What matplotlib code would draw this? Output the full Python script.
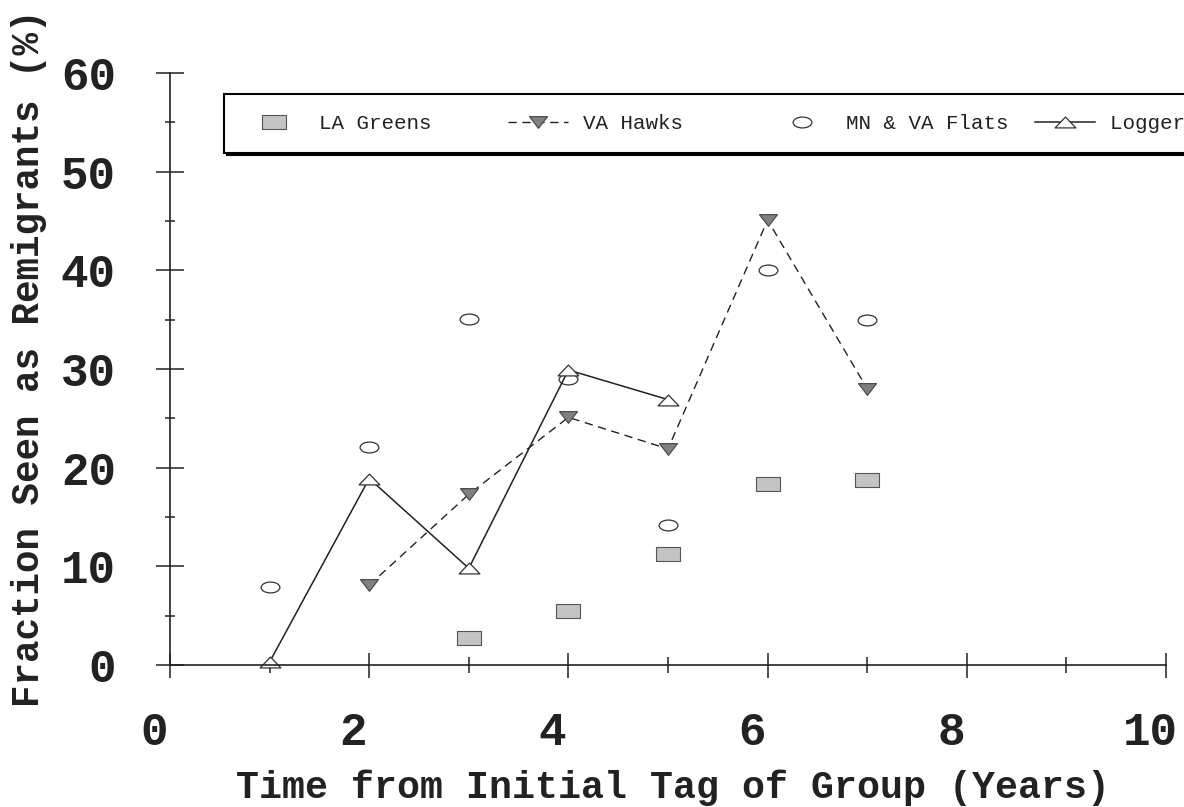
import matplotlib
matplotlib.use('Agg')
import matplotlib.pyplot as plt
from matplotlib.path import Path
from matplotlib.transforms import Affine2D, ScaledTranslation

# ---------------------------------------------------------
# data
# ---------------------------------------------------------
la_greens_x = [3, 4, 5, 6, 7]
la_greens_y = [2.7, 5.5, 11.2, 18.3, 18.7]

va_hawks_x = [2, 3, 4, 5, 6, 7]
va_hawks_y = [8.1, 17.3, 25.1, 21.9, 45.1, 28.0]

flats_x = [1, 2, 3, 4, 5, 6, 7]
flats_y = [7.9, 22.1, 35.1, 29.0, 14.2, 40.0, 35.0]

logger_x = [1, 2, 3, 4, 5]
logger_y = [0.3, 18.9, 9.8, 29.9, 26.9]

x_ticks = [0, 2, 4, 6, 8, 10]
y_ticks = [0, 10, 20, 30, 40, 50, 60]

series_labels = ['LA Greens', 'VA Hawks', 'MN & VA Flats', 'Loggerhead']

# ---------------------------------------------------------
# squashed markers (the original plot was stretched sideways)
# ---------------------------------------------------------
rect_marker = Path([(-1, -0.58), (1, -0.58), (1, 0.58), (-1, 0.58), (-1, -0.58)],
                   [Path.MOVETO, Path.LINETO, Path.LINETO, Path.LINETO, Path.CLOSEPOLY])
ellipse_marker = Path.unit_circle().transformed(Affine2D().scale(1, 0.58))
tri_down_marker = Path([(-1, 0.65), (1, 0.65), (0, -0.65), (-1, 0.65)],
                       [Path.MOVETO, Path.LINETO, Path.LINETO, Path.CLOSEPOLY])
tri_up_marker = Path([(-1, -0.52), (1, -0.52), (0, 0.52), (-1, -0.52)],
                     [Path.MOVETO, Path.LINETO, Path.LINETO, Path.CLOSEPOLY])

mono = 'Liberation Mono'
W, H = 1184, 807

fig = plt.figure(figsize=(W / 100, H / 100), dpi=100)
fig.patch.set_facecolor('white')
ax = fig.add_axes([170 / W, 142 / H, 996 / W, 592 / H])

lab = [s.ljust(14) for s in series_labels]

ax.plot(la_greens_x, la_greens_y, linestyle='none', marker=rect_marker, markersize=17,
        markerfacecolor='#c4c4c4', markeredgecolor='#555555', markeredgewidth=0.8,
        clip_on=False, label=lab[0])
ax.plot(va_hawks_x, va_hawks_y, color='#222222', linewidth=1.0, dashes=(6, 4),
        marker=tri_down_marker, markersize=13, markerfacecolor='#808080',
        markeredgecolor='#444444', markeredgewidth=0.8, clip_on=False, label=lab[1])
ax.plot(flats_x, flats_y, linestyle='none', marker=ellipse_marker, markersize=13.5,
        markerfacecolor='white', markeredgecolor='#333333', markeredgewidth=0.9,
        clip_on=False, label=lab[2])
ax.plot(logger_x, logger_y, color='#222222', linewidth=1.1, linestyle='-',
        marker=tri_up_marker, markersize=15, markerfacecolor='white',
        markeredgecolor='#333333', markeredgewidth=0.9, clip_on=False, label=lab[3])

ax.set_xlim(0, 10)
ax.set_ylim(0, 60)
for side in ['top', 'right']:
    ax.spines[side].set_visible(False)
for side in ['left', 'bottom']:
    ax.spines[side].set_linewidth(1.2)
    ax.spines[side].set_color('#222222')

ax.set_xticks(x_ticks)
ax.set_xticks(range(0, 11), minor=True)
ax.set_yticks(y_ticks)
ax.set_yticks(range(0, 61, 5), minor=True)
ax.set_xticklabels([str(v) for v in x_ticks], fontfamily=mono, fontweight='bold')
ax.set_yticklabels([str(v) for v in y_ticks], fontfamily=mono, fontweight='bold')
ax.tick_params(axis='x', which='major', direction='inout', length=18, width=1.1,
               labelsize=33, pad=24, colors='#222222')
ax.tick_params(axis='x', which='minor', direction='inout', length=11.5, width=1.1,
               colors='#222222')
ax.tick_params(axis='y', which='major', direction='inout', length=20, width=1.1,
               labelsize=33, pad=29, colors='#222222')
ax.tick_params(axis='y', which='minor', direction='inout', length=7, width=1.1,
               colors='#222222')

# the x tick labels sit a little left of their ticks in the original
shift = ScaledTranslation(-16 / 100, 0, fig.dpi_scale_trans)
for t in ax.xaxis.get_major_ticks():
    t.label1.set_transform(t.label1.get_transform() + shift)

ax.set_xlabel('Time from Initial Tag of Group (Years)', fontfamily=mono,
              fontweight='bold', fontsize=27.5, color='#222222')
ax.set_ylabel('Fraction Seen as Remigrants (%)', fontfamily=mono,
              fontweight='bold', fontsize=27, color='#222222')
ax.xaxis.set_label_coords((673 - 170) / 996, (665 - 770) / 592)
ax.yaxis.set_label_coords((47 - 170) / 996, (665 - 358) / 592)

leg = ax.legend(loc='upper left', bbox_to_anchor=(224 / W, 1 - 94 / H),
                bbox_transform=fig.transFigure, borderaxespad=0, ncol=4,
                numpoints=1, handlelength=2.9, handletextpad=0.7,
                columnspacing=0.66, borderpad=0.95, fancybox=False,
                framealpha=1, edgecolor='black',
                shadow={'color': 'black', 'alpha': 1.0},
                prop={'family': mono, 'size': 15})
leg.get_frame().set_linewidth(1.5)
for txt in leg.get_texts():
    txt.set_color('#222222')

plt.savefig('out.png', dpi=100, facecolor='white')
